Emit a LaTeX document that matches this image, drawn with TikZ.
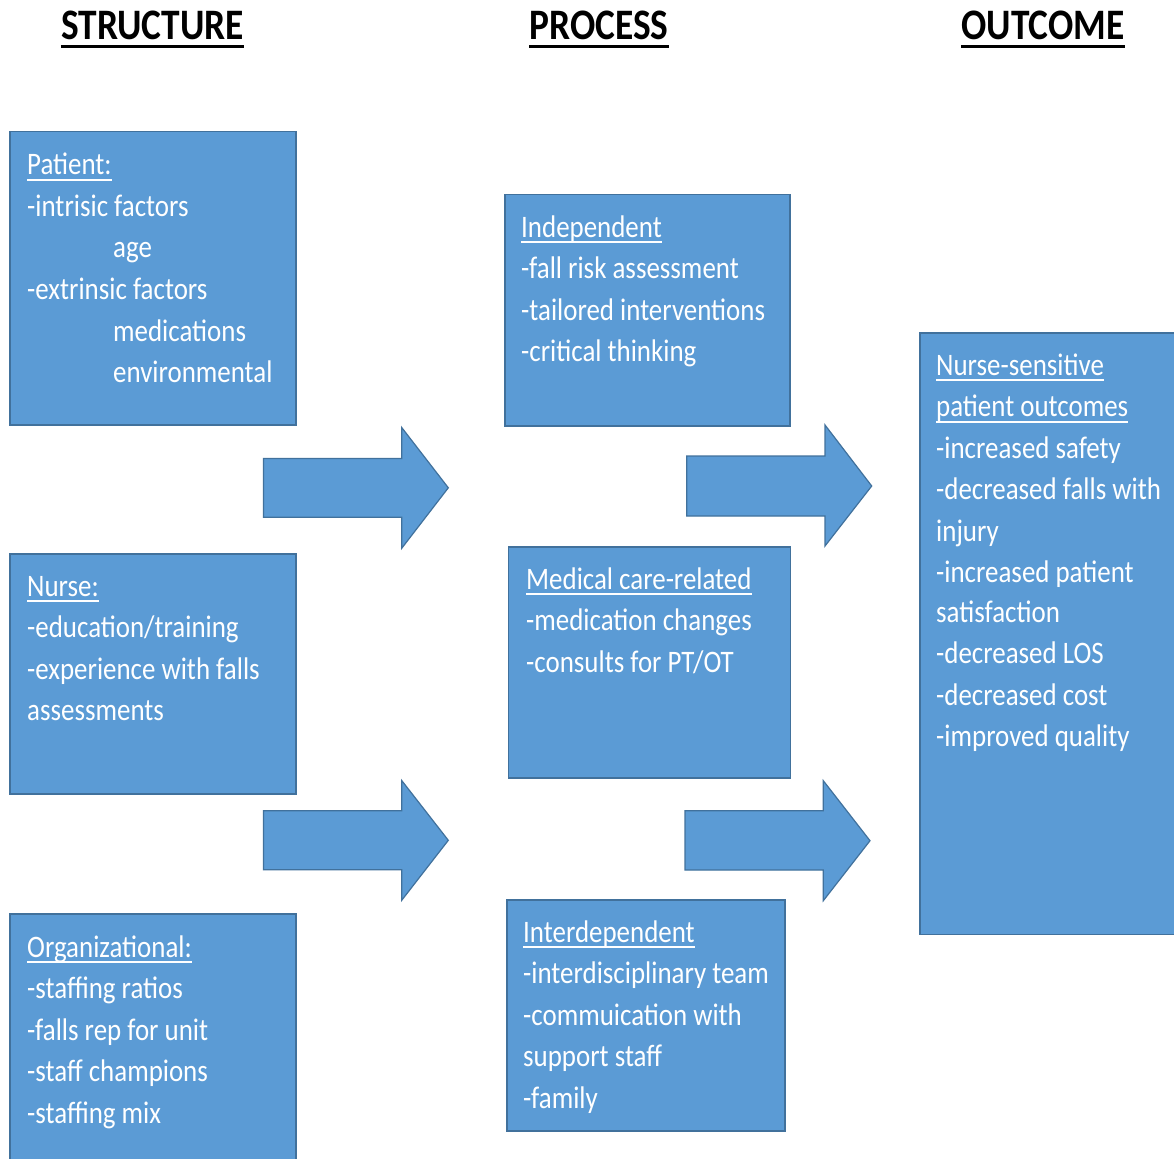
\documentclass[tikz,border=0pt]{standalone}
\usepackage{fontspec}
\newfontfamily\calfont[FakeStretch=0.86]{Carlito}
\definecolor{boxfill}{HTML}{5B9BD5}
\definecolor{boxline}{HTML}{41719C}
\tikzset{
  box/.style={draw=boxline, fill=boxfill, line width=1.5pt, anchor=north west, inner sep=0pt},
  txt/.style={text=white, inner sep=0pt, anchor=base west, font=\calfont\fontsize{31.3}{41}\selectfont},
  ttl/.style={text=black, inner sep=0pt, anchor=base, font=\calfont\bfseries\fontsize{43.5}{50}\selectfont},
  ulw/.style={draw=white, line width=2pt},
  ulb/.style={draw=black, line width=3pt},
  blockarrow/.style={fill=boxfill, draw=boxline, line width=1.2pt, line join=miter}
}
\begin{document}
\begin{tikzpicture}[x=1pt,y=-1pt]
\clip (0,0) rectangle (1174,1158);
\fill[white] (0,0) rectangle (1174,1158);

% titles
\node[ttl] (tS) at (152.5,40) {STRUCTURE};
\node[ttl] (tP) at (599,40) {PROCESS};
\node[ttl] (tO) at (1043,40) {OUTCOME};
\foreach \t in {tS,tP,tO}{
  \draw[ulb] ([yshift=-7pt]\t.base west) -- ([yshift=-7pt]\t.base east);
}

% boxes
\node[box, minimum width=286pt, minimum height=293pt] (patient) at (9,131) {};
\node[box, minimum width=286pt, minimum height=240pt] (nurse) at (9,553) {};
\node[box, minimum width=286pt, minimum height=260pt] (org) at (9,913) {};
\node[box, minimum width=285pt, minimum height=231pt] (indep) at (504,194) {};
\node[box, minimum width=282pt, minimum height=231pt] (medical) at (507.5,546) {};
\node[box, minimum width=278pt, minimum height=231pt] (inter) at (506,899) {};
\node[box, minimum width=270pt, minimum height=601.5pt] (outcome) at (919,332) {};

% arrows
\path[blockarrow] (263.5,458.5) -- (401.7,458.5) -- (401.7,427.5) -- (448.3,487.8) -- (401.7,548.3) -- (401.7,517.3) -- (263.5,517.3) -- cycle;
\path[blockarrow] (263.5,810.8) -- (401.7,810.8) -- (401.7,780.5) -- (448.3,840.3) -- (401.7,900.3) -- (401.7,869.8) -- (263.5,869.8) -- cycle;
\path[blockarrow] (686.7,456) -- (825,456) -- (825,425) -- (871.7,486) -- (825,546) -- (825,516) -- (686.7,516) -- cycle;
\path[blockarrow] (685,810.7) -- (823.3,810.7) -- (823.3,780.7) -- (870,840.7) -- (823.3,900.7) -- (823.3,870) -- (685,870) -- cycle;

% Patient
\node[txt] (p0) at (27,175) {Patient:};
\node[txt] (p1) at (27,216.5) {-intrisic factors};
\node[txt] (p2) at (113,258) {age};
\node[txt] (p3) at (27,299.5) {-extrinsic factors};
\node[txt] (p4) at (113,341) {medications};
\node[txt] (p5) at (113,382.5) {environmental};

% Nurse
\node[txt] (n0) at (27,596) {Nurse:};
\node[txt] (n1) at (27,637.5) {-education/training};
\node[txt] (n2) at (27,679) {-experience with falls};
\node[txt] (n3) at (27,720.5) {assessments};

% Organizational
\node[txt] (o0) at (27,957) {Organizational:};
\node[txt] (o1) at (27,998.5) {-staffing ratios};
\node[txt] (o2) at (27,1040) {-falls rep for unit};
\node[txt] (o3) at (27,1081.5) {-staff champions};
\node[txt] (o4) at (27,1123) {-staffing mix};

% Independent
\node[txt] (i0) at (521,237) {Independent};
\node[txt] (i1) at (521,278.5) {-fall risk assessment};
\node[txt] (i2) at (521,320) {-tailored interventions};
\node[txt] (i3) at (521,361.5) {-critical thinking};

% Medical
\node[txt] (m0) at (526,589) {Medical care-related};
\node[txt] (m1) at (526,630.5) {-medication changes};
\node[txt] (m2) at (526,672) {-consults for PT/OT};

% Interdependent
\node[txt] (d0) at (523,942) {Interdependent};
\node[txt] (d1) at (523,983.5) {-interdisciplinary team};
\node[txt] (d2) at (523,1025) {-commuication with};
\node[txt] (d3) at (523,1066.5) {support staff};
\node[txt] (d4) at (523,1108) {-family};

% Outcome
\node[txt] (r0) at (936,375) {Nurse-sensitive};
\node[txt] (r1) at (936,416.5) {patient outcomes};
\node[txt] (r2) at (936,458) {-increased safety};
\node[txt] (r3) at (936,499.5) {-decreased falls with};
\node[txt] (r4) at (936,541) {injury};
\node[txt] (r5) at (936,582.5) {-increased patient};
\node[txt] (r6) at (936,622) {satisfaction};
\node[txt] (r7) at (936,663.5) {-decreased LOS};
\node[txt] (r8) at (936,705) {-decreased cost};
\node[txt] (r9) at (936,746.5) {-improved quality};

% underlines
\foreach \t in {p0,n0,o0,i0,m0,d0,r0,r1}{
  \draw[ulw] ([yshift=-5pt]\t.base west) -- ([yshift=-5pt]\t.base east);
}
\end{tikzpicture}
\end{document}
